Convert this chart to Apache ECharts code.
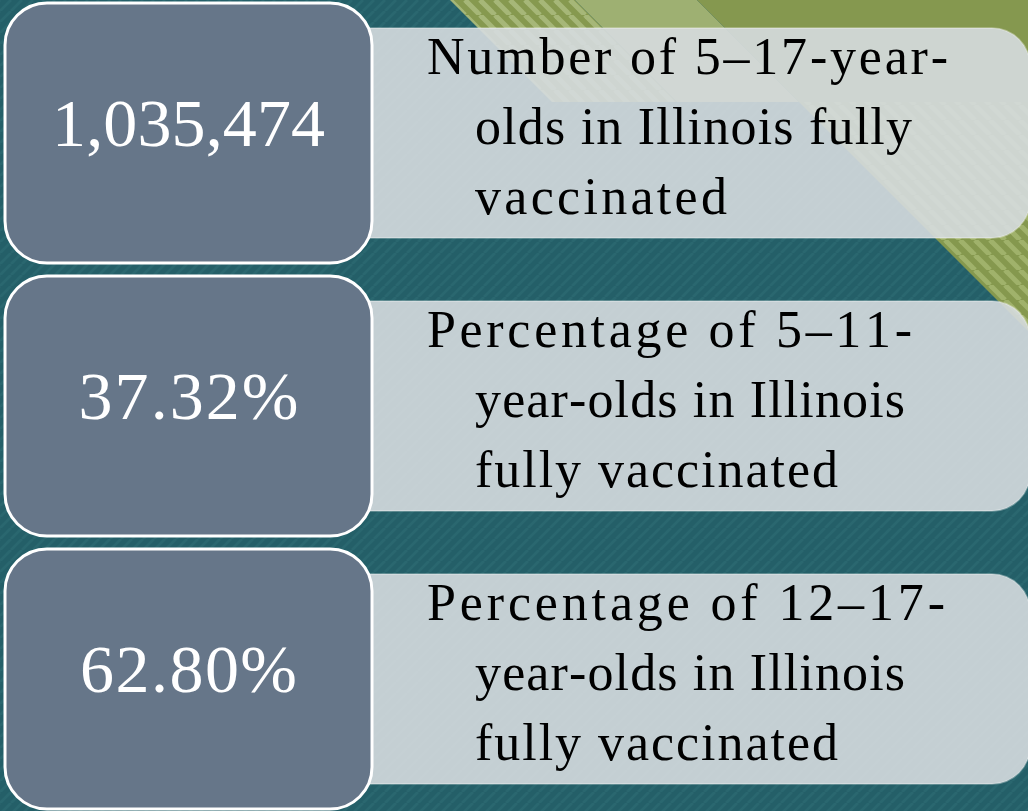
<!DOCTYPE html>
<html><head><meta charset="utf-8">
<script src="https://cdn.jsdelivr.net/npm/echarts@6/dist/echarts.min.js"></script>
<style>html,body{margin:0;padding:0;background:#245f68;overflow:hidden}#c{width:1028px;height:811px}</style>
</head><body><div id="c"></div>
<script>
// ---- data ----
const statValues = ['1,035,474', '37.32%', '62.80%'];
const statLabels = [
  ['Number of 5–17-year-', 'olds in Illinois fully', 'vaccinated'],
  ['Percentage of 5–11-', 'year-olds in Illinois', 'fully vaccinated'],
  ['Percentage of 12–17-', 'year-olds in Illinois', 'fully vaccinated']
];

// ---- layout (positions / sizes / styles) ----
const FONT = '"Liberation Serif", "Times New Roman", "DejaVu Serif", serif';
const rowTop0 = 3, rowStep = 273;
const leftCard = { x: 5, w: 367, h: 260, r: 42 };
const rightCard = { x: 340, x2: 1030, dy: 25, h: 210, r: 38 };
const lineX = [427, 475, 475];
const lineBaselineOffsets = [50, 120, 190];
const lineSpans = [[521, 437, 252], [485, 430, 363], [518, 430, 363]];
const valueSpans = [273, 220, 217];
const labelSize = 52, valueSize = 68;

function stripeTile(size, base, stripe, lw, dir) {
  const c = document.createElement('canvas');
  c.width = c.height = size;
  const g = c.getContext('2d');
  g.fillStyle = base; g.fillRect(0, 0, size, size);
  g.strokeStyle = stripe; g.lineWidth = lw;
  for (let k = -1; k <= 1; k++) {
    g.beginPath();
    if (dir > 0) { g.moveTo(k * size, size); g.lineTo(k * size + size, 0); }
    else { g.moveTo(k * size, 0); g.lineTo(k * size + size, size); }
    g.stroke();
  }
  return c;
}
const tealTile = stripeTile(11, '#245f68', '#2a676f', 3, 1);
const greenTileA = stripeTile(15, '#86994f', '#a6b778', 5, -1);
const greenTileB = stripeTile(15, '#85984e', '#a0b26b', 5, -1);

const mctx = document.createElement('canvas').getContext('2d');
function charWidths(str, size) {
  mctx.font = size + 'px ' + FONT;
  return Array.from(str).map(ch => mctx.measureText(ch).width);
}
// place a string char by char with even spacing so it spans `span` pixels starting at x0
function spacedText(str, size, x0, span, cy, color, z, out) {
  const chars = Array.from(str);
  const ws = charWidths(str, size);
  const total = ws.reduce((a, b) => a + b, 0);
  const gap = chars.length > 1 ? (span - total) / (chars.length - 1) : 0;
  let cx = x0;
  chars.forEach((ch, k) => {
    if (ch !== ' ') {
      out.push({ type: 'text', z: z, x: cx, y: cy,
        style: { text: ch, fill: color, font: size + 'px ' + FONT, align: 'left', verticalAlign: 'middle' } });
    }
    cx += ws[k] + gap;
  });
}

const elements = [];
elements.push({ type: 'rect', shape: { x: 0, y: 0, width: 1028, height: 811 },
  style: { fill: { image: tealTile, repeat: 'repeat' } }, silent: true, z: 0 });
elements.push({ type: 'polygon', shape: { points: [[450, 0], [575, 0], [677, 102], [552, 102]] },
  style: { fill: { image: greenTileA, repeat: 'repeat' } }, z: 1 });
elements.push({ type: 'polygon', shape: { points: [[575, 0], [697, 0], [799, 102], [677, 102]] },
  style: { fill: '#9eb072' }, z: 1 });
elements.push({ type: 'polygon', shape: { points: [[697, 0], [1028, 0], [1028, 102], [799, 102]] },
  style: { fill: '#85984f' }, z: 1 });
elements.push({ type: 'polygon', shape: { points: [[799, 102], [1028, 102], [1028, 331]] },
  style: { fill: { image: greenTileB, repeat: 'repeat' } }, z: 1 });

statValues.forEach((val, i) => {
  const top = rowTop0 + i * rowStep;
  elements.push({ type: 'rect', z: 2,
    shape: { x: rightCard.x, y: top + rightCard.dy, width: rightCard.x2 - rightCard.x, height: rightCard.h,
             r: [0, rightCard.r, rightCard.r, 0] },
    style: { fill: 'rgba(214,219,223,0.9)', stroke: 'rgba(255,255,255,0.35)', lineWidth: 1.5 } });
  elements.push({ type: 'rect', z: 3,
    shape: { x: leftCard.x, y: top, width: leftCard.w, height: leftCard.h, r: leftCard.r },
    style: { fill: '#667689', stroke: '#ffffff', lineWidth: 3 } });
  const vcx = leftCard.x + leftCard.w / 2;
  spacedText(val, valueSize, vcx - valueSpans[i] / 2, valueSpans[i], top + leftCard.h / 2 - 5, '#ffffff', 4, elements);
  statLabels[i].forEach((line, j) => {
    const cy = top + rightCard.dy + lineBaselineOffsets[j] - 0.3375 * labelSize;
    spacedText(line, labelSize, lineX[j], lineSpans[i][j], cy, '#000000', 4, elements);
  });
});

const chart = echarts.init(document.getElementById('c'), null, { renderer: 'canvas', width: 1028, height: 811 });
chart.setOption({ backgroundColor: '#245f68', animation: false, graphic: { elements: elements } });
</script>
</body></html>
